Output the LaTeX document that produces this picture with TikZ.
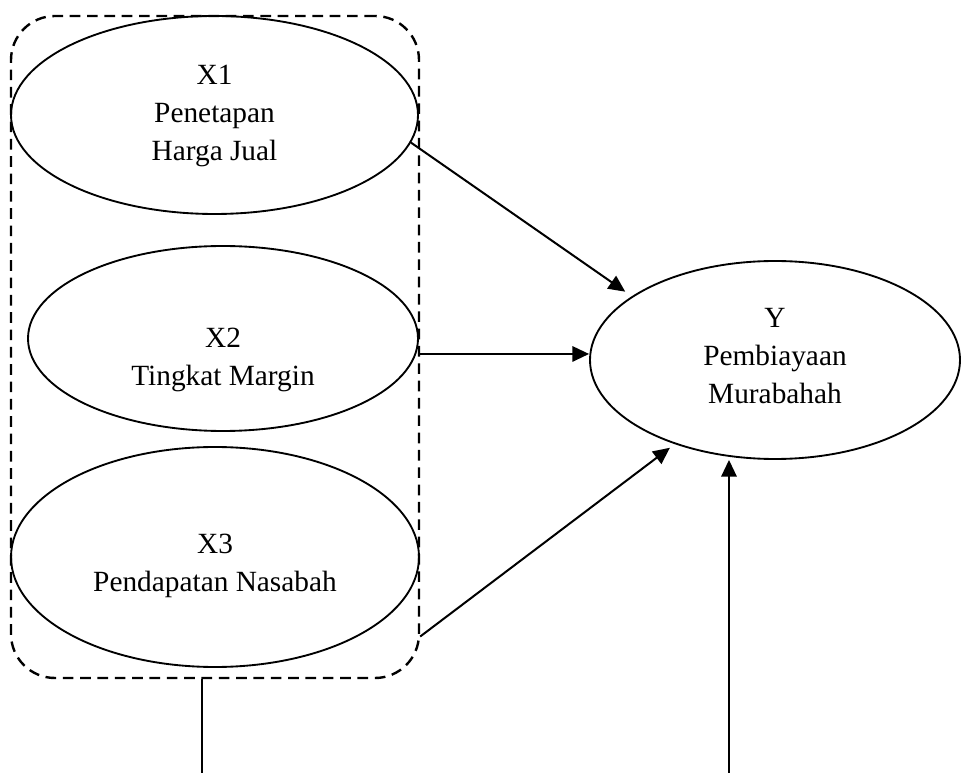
\documentclass[tikz,border=0pt]{standalone}
\usepackage{fontspec}
\setmainfont{Liberation Serif}
\usetikzlibrary{shapes.geometric,arrows.meta}
\begin{document}
\begin{tikzpicture}[x=0.75pt,y=-0.75pt,
  ell/.style={ellipse,draw,line width=1.4pt,inner sep=0pt},
  lbl/.style={align=center,font=\fontsize{22}{28.5}\selectfont},
  grp/.style={rectangle,draw,line width=1.8pt,dash pattern=on 8pt off 5pt,rounded corners=33pt,inner sep=0pt},
  arr/.style={line width=1.5pt,-{Triangle[length=12.5pt,width=11.5pt]}},
  plain/.style={line width=1.5pt}]
\useasboundingbox (0,0) rectangle (961,773);
\node[grp,minimum width=408*0.75pt,minimum height=662*0.75pt] (G) at (215,347) {};
\node[ell,minimum width=407*0.75pt,minimum height=198*0.75pt,
  label={[lbl,yshift=-1pt]center:X1\\Penetapan\\Harga Jual}] (X1) at (214.5,115) {};
\node[ell,minimum width=390*0.75pt,minimum height=185*0.75pt,
  label={[lbl,yshift=-16pt]center:X2\\Tingkat Margin}] (X2) at (223,338.5) {};
\node[ell,minimum width=408*0.75pt,minimum height=220*0.75pt,
  label={[lbl,yshift=-7pt]center:X3\\Pendapatan Nasabah}] (X3) at (215,557) {};
\node[ell,minimum width=370*0.75pt,minimum height=198*0.75pt,
  label={[lbl,yshift=3pt]center:Y\\Pembiayaan\\Murabahah}] (Y) at (775,360) {};
\coordinate (c1) at (202,773);
\coordinate (c2) at (729,773);
\draw[arr,shorten >=6pt] (X1.-8) -- (Y.156);
\draw[arr] ([yshift=-11.6pt]G.east |- X2.east) -- ([yshift=-11.6pt]X2.east -| Y.west);
\draw[arr,shorten >=4.5pt] ([yshift=32pt]G.south east) -- (Y.220);
\draw[arr] (c2) -- (c2 |- Y.south);
\draw[plain] (c1 |- G.south) -- (c1);
\end{tikzpicture}
\end{document}
